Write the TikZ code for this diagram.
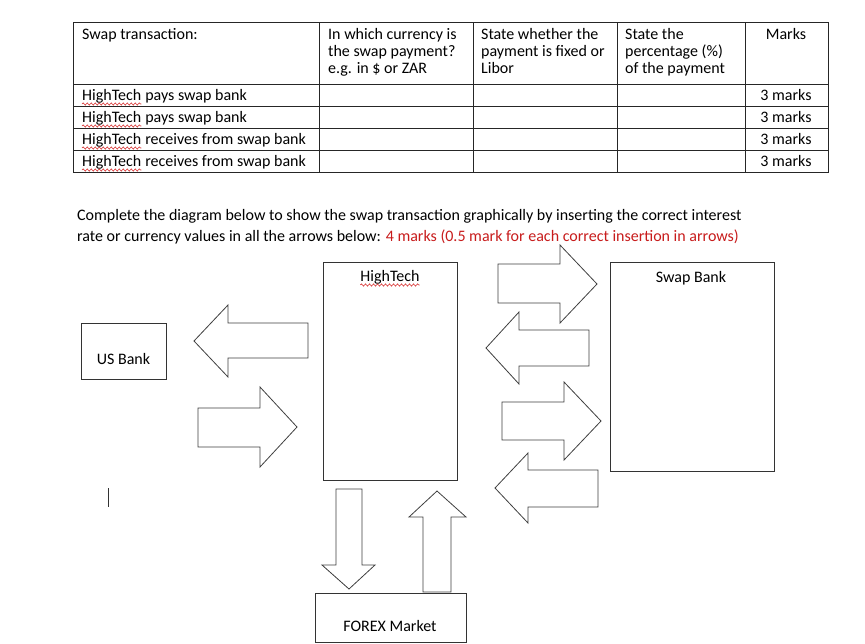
\documentclass[tikz,border=0pt]{standalone}
\usepackage{fontspec}
\setmainfont{Carlito}
\usetikzlibrary{decorations.pathmorphing}
\definecolor{redtxt}{RGB}{200,28,28}
\definecolor{wavered}{RGB}{215,45,45}
\tikzset{
  txt/.style={anchor=base west, inner sep=0pt, font=\fontsize{16}{18}\selectfont},
  ctxt/.style={anchor=base, inner sep=0pt, font=\fontsize{16}{18}\selectfont},
  grid/.style={line width=0.9pt, black!85},
  box/.style={line width=0.9pt, black!80},
  blockarrow/.style={line width=0.8pt, black!75, line join=miter},
  wavy/.style={wavered, line width=0.6pt, decorate, decoration={snake, amplitude=1.1pt, segment length=4pt}},
}
\begin{document}
\begin{tikzpicture}[x=1pt, y=-1pt]
\useasboundingbox (0,0) rectangle (865,643);
\fill[white] (0,0) rectangle (865,643);

% ---------- table ----------
\draw[grid] (73,22) rectangle (828,172);
\foreach \yy in {84,106,128,150} \draw[grid] (73,\yy) -- (828,\yy);
\foreach \xx in {319,473,617,745} \draw[grid] (\xx,22) -- (\xx,172);

\node[txt] (h0) at (82,39) {Swap transaction:};
\node[txt] (h1a) at (328,39) {In which currency is};
\node[txt] (h1b) at (328,56) {the swap payment?};
\node[txt] (h1c) at (328,73) {e.g. in \$ or ZAR};
\node[txt] (h2a) at (481,39) {State whether the};
\node[txt] (h2b) at (481,56) {payment is fixed or};
\node[txt] (h2c) at (481,73) {Libor};
\node[txt] (h3a) at (625,39) {State the};
\node[txt] (h3b) at (625,56) {percentage (\%)};
\node[txt] (h3c) at (625,73) {of the payment};
\node[ctxt] (h4) at (786,39) {Marks};

\node[txt] (w1) at (82,100) {HighTech};
\node[txt] (t1) at (w1.base east) {\ pays swap bank};
\node[txt] (w2) at (82,122) {HighTech};
\node[txt] (t2) at (w2.base east) {\ pays swap bank};
\node[txt] (w3) at (82,144) {HighTech};
\node[txt] (t3) at (w3.base east) {\ receives from swap bank};
\node[txt] (w4) at (82,166) {HighTech};
\node[txt] (t4) at (w4.base east) {\ receives from swap bank};
\foreach \w in {w1,w2,w3,w4}
  \draw[wavy] ([yshift=-4pt]\w.base west) -- ([yshift=-4pt]\w.base east);

\node[ctxt] (m1) at (786,100) {3 marks};
\node[ctxt] (m2) at (786,122) {3 marks};
\node[ctxt] (m3) at (786,144) {3 marks};
\node[ctxt] (m4) at (786,166) {3 marks};

% ---------- instructions ----------
\node[txt] (p1) at (77,220) {Complete the diagram below to show the swap transaction graphically by inserting the correct interest};
\node[txt] (p2) at (77,241) {rate or currency values in all the arrows below: \textcolor{redtxt}{4 marks (0.5 mark for each correct insertion in arrows)}};

% ---------- boxes ----------
\draw[box] (323,262) rectangle (457,480);
\node[ctxt] (ht) at (390,281) {HighTech};
\draw[wavy] ([yshift=-4pt]ht.base west) -- ([yshift=-4pt]ht.base east);

\draw[box] (610,262) rectangle (774,471);
\node[ctxt] (sb) at (691,282) {Swap Bank};

\draw[box] (81,323) rectangle (166,379);
\node[ctxt] (us) at (123.5,364) {US Bank};

\draw[box] (315,593) rectangle (466,642.5);
\node[ctxt] (fx) at (390,631) {FOREX Market};

% ---------- block arrows ----------
\draw[blockarrow] (308,323) -- (228,323) -- (228,305) -- (194,341) -- (228,377) -- (228,358) -- (308,358) -- cycle;
\draw[blockarrow] (198,408) -- (260,408) -- (260,387) -- (297,427) -- (260,467) -- (260,447) -- (198,447) -- cycle;
\draw[blockarrow] (498,264) -- (560,264) -- (560,245) -- (597,284) -- (560,323) -- (560,303) -- (498,303) -- cycle;
\draw[blockarrow] (589,330) -- (519,330) -- (519,312) -- (486,348) -- (519,384) -- (519,366) -- (589,366) -- cycle;
\draw[blockarrow] (502,402) -- (564,402) -- (564,382) -- (601,421) -- (564,460) -- (564,440) -- (502,440) -- cycle;
\draw[blockarrow] (598,470) -- (528,470) -- (528,453) -- (495,488) -- (528,523) -- (528,507) -- (598,507) -- cycle;
\draw[blockarrow] (336,489) -- (362,489) -- (362,565) -- (375,565) -- (349,589) -- (322,565) -- (336,565) -- cycle;
\draw[blockarrow] (423,592) -- (451,592) -- (451,517) -- (466,517) -- (437,491) -- (409,517) -- (423,517) -- cycle;

% text cursor
\draw[line width=0.9pt, black!80] (108,488) -- (108,507);
\end{tikzpicture}
\end{document}
